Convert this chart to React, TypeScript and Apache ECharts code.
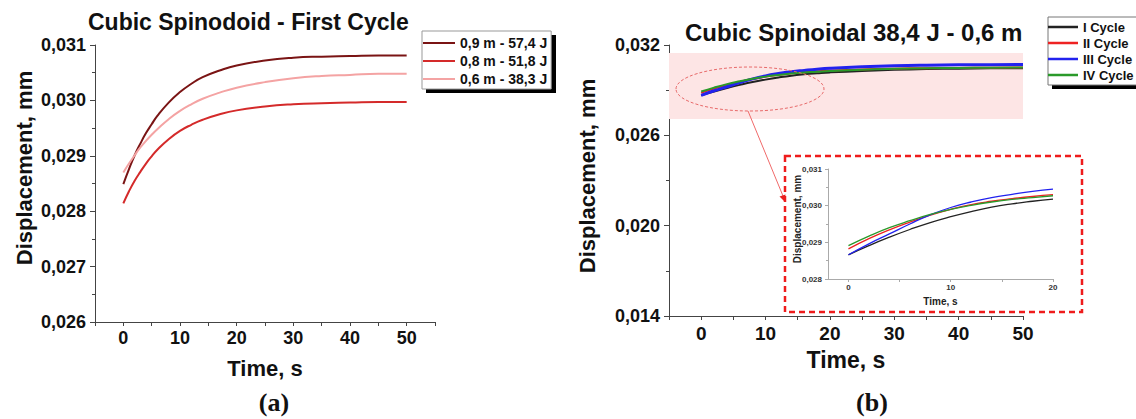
import React, { useEffect, useRef } from "react";
import * as echarts from "echarts";

// ---------- data ----------
// (a) Cubic Spinodoid – first cycle
const TIME_A = [0, 1, 2, 3, 4, 5, 6, 8, 10, 12, 14, 17, 20, 25, 30, 35, 40, 45, 50];
const DISP_09 = [0.02849, 0.02876, 0.02901, 0.02922, 0.02941, 0.02957, 0.02972, 0.02996, 0.03015, 0.0303, 0.03042, 0.03054, 0.03063, 0.03072, 0.03077, 0.03079, 0.0308, 0.03081, 0.03081];
const DISP_08 = [0.02814, 0.02836, 0.02855, 0.02871, 0.02886, 0.02899, 0.02911, 0.0293, 0.02945, 0.02956, 0.02965, 0.02975, 0.02982, 0.02989, 0.02993, 0.02995, 0.02996, 0.02997, 0.02997];
const DISP_06 = [0.0287, 0.02886, 0.02901, 0.02915, 0.02927, 0.02938, 0.02948, 0.02966, 0.02981, 0.02993, 0.03003, 0.03014, 0.03023, 0.03033, 0.0304, 0.03044, 0.03046, 0.03048, 0.03048];
const NAMES_A = ["0,9 m - 57,4 J", "0,8 m - 51,8 J", "0,6 m - 38,3 J"];

// (b) Cubic Spinoidal 38,4 J - 0,6 m, cycles I–IV
const TIME_B = [0, 2, 4, 6, 8, 10, 12, 14, 16, 18, 20, 25, 30, 35, 40, 45, 50];
const CYCLE_I = [0.02866, 0.02891, 0.02914, 0.02935, 0.02954, 0.0297, 0.02984, 0.02996, 0.03005, 0.03012, 0.03018, 0.03028, 0.03035, 0.0304, 0.03043, 0.03045, 0.03046];
const CYCLE_II = [0.02882, 0.0291, 0.02934, 0.02955, 0.02974, 0.0299, 0.03003, 0.03012, 0.03019, 0.03025, 0.0303, 0.03038, 0.03043, 0.03046, 0.03048, 0.03049, 0.0305];
const CYCLE_III = [0.02866, 0.02896, 0.02923, 0.0295, 0.02975, 0.02995, 0.0301, 0.03022, 0.03031, 0.03039, 0.03045, 0.03055, 0.03062, 0.03066, 0.03068, 0.03069, 0.0307];
const CYCLE_IV = [0.02891, 0.02917, 0.0294, 0.02959, 0.02976, 0.0299, 0.03001, 0.0301, 0.03017, 0.03022, 0.03027, 0.03036, 0.03042, 0.03046, 0.03048, 0.03049, 0.0305];
const NAMES_B = ["I Cycle", "II Cycle", "III Cycle", "IV Cycle"];
const INSET_MAX_T = 20;

const X_LABELS_MAIN = [0, 10, 20, 30, 40, 50];
const X_LABELS_INSET = [0, 10, 20];
const X_TICKS_INSET = [0, 5, 10, 15, 20];

const FONT = '"Liberation Sans", Arial, sans-serif';
const SERIF = '"Liberation Serif", "Times New Roman", serif';

const zip = (xs: number[], ys: number[]) => xs.map((x, i) => [x, ys[i]]);
const fmt = (v: number) => v.toFixed(3).replace(".", ",");

export default function App() {
  const ref = useRef<HTMLDivElement>(null);

  useEffect(() => {
    if (!ref.current) return;
    const chart = echarts.init(ref.current, null, { renderer: "svg" });

    const axisColor = "#444";
    const labelStyle = (size: number) => ({
      fontSize: size,
      fontWeight: "bold" as const,
      color: "#111",
      fontFamily: FONT,
    });

    const mainX = (grid: number, max: number, labelSize: number, margin: number, nameGap: number, nameSize: number) => ({
      gridIndex: grid,
      type: "value",
      min: -5,
      max,
      interval: 5,
      axisLine: { show: true, onZero: false, lineStyle: { color: axisColor, width: 1 } },
      axisTick: { show: true, inside: false, length: 4, lineStyle: { color: axisColor } },
      axisLabel: {
        ...labelStyle(labelSize),
        margin,
        formatter: (v: number) => (X_LABELS_MAIN.includes(v) ? String(v) : ""),
      },
      splitLine: { show: false },
      name: "Time, s",
      nameLocation: "middle",
      nameGap,
      nameTextStyle: labelStyle(nameSize),
    });

    const mainY = (grid: number, min: number, max: number, interval: number, size: number) => ({
      gridIndex: grid,
      type: "value",
      min,
      max,
      interval,
      axisLine: { show: true, onZero: false, lineStyle: { color: axisColor, width: 1 } },
      axisTick: { show: true, inside: false, length: 5, lineStyle: { color: axisColor } },
      minorTick: { show: true, splitNumber: 2, length: 3, lineStyle: { color: axisColor } },
      axisLabel: { ...labelStyle(size), margin: 9, formatter: fmt },
      splitLine: { show: false },
      minorSplitLine: { show: false },
    });

    const insetIdx = TIME_B.filter((t) => t <= INSET_MAX_T).length;

    const colorsA = ["#7a1414", "#d42a2a", "#f4a3a3"];
    const dataA = [DISP_09, DISP_08, DISP_06];
    const colorsB = ["#222222", "#ee2222", "#2222ee", "#2a9a2a"];
    const widthsB = [2, 2, 3, 2];
    const dataB = [CYCLE_I, CYCLE_II, CYCLE_III, CYCLE_IV];

    const seriesA = NAMES_A.map((name, i) => ({
      name,
      type: "line",
      xAxisIndex: 0,
      yAxisIndex: 0,
      smooth: true,
      symbol: "none",
      data: zip(TIME_A, dataA[i]),
      lineStyle: { color: colorsA[i], width: 2 },
      itemStyle: { color: colorsA[i] },
    }));

    const highlightSeries = {
      name: "zoom-region",
      type: "line",
      xAxisIndex: 1,
      yAxisIndex: 1,
      data: [],
      silent: true,
      markArea: {
        silent: true,
        itemStyle: { color: "#fde5e5" },
        data: [[{ coord: [-5, 0.03147] }, { coord: [51, 0.02708] }]],
      },
    };

    const seriesB = NAMES_B.map((name, i) => ({
      name,
      type: "line",
      xAxisIndex: 1,
      yAxisIndex: 1,
      smooth: true,
      symbol: "none",
      data: zip(TIME_B, dataB[i]),
      lineStyle: { color: colorsB[i], width: widthsB[i] },
      itemStyle: { color: colorsB[i] },
    }));

    const seriesInset = NAMES_B.map((name, i) => ({
      name,
      type: "line",
      xAxisIndex: 2,
      yAxisIndex: 2,
      smooth: true,
      symbol: "none",
      data: zip(TIME_B.slice(0, insetIdx), dataB[i].slice(0, insetIdx)),
      lineStyle: { color: colorsB[i], width: 1.3 },
      itemStyle: { color: colorsB[i] },
    }));

    const insetAxisColor = "#aaa";

    const option: any = {
      animation: false,
      backgroundColor: "#ffffff",
      title: [
        {
          text: "Cubic Spinodoid - First Cycle",
          left: 88,
          top: 10,
          padding: 0,
          textStyle: labelStyle(23),
        },
        {
          text: "Cubic Spinoidal 38,4 J - 0,6 m",
          left: 685,
          top: 20,
          padding: 0,
          textStyle: labelStyle(24),
        },
      ],
      legend: [
        {
          data: NAMES_A,
          orient: "vertical",
          left: 422,
          top: 31,
          icon: "rect",
          itemWidth: 32,
          itemHeight: 2,
          itemGap: 0,
          padding: [3, 4, 1, 1],
          backgroundColor: "#fff",
          borderColor: "#999",
          borderWidth: 1,
          textStyle: { ...labelStyle(14), lineHeight: 18 },
        },
        {
          data: NAMES_B,
          orient: "vertical",
          left: 1048,
          top: 17,
          icon: "rect",
          itemWidth: 30,
          itemHeight: 2.5,
          itemGap: 0,
          padding: [2, 8, 2, 0],
          backgroundColor: "#fff",
          borderColor: "#777",
          borderWidth: 1,
          textStyle: { ...labelStyle(13), lineHeight: 16 },
        },
      ],
      grid: [
        { left: 95, top: 45, width: 340, height: 277, containLabel: false },
        { left: 669, top: 45, width: 354, height: 271, containLabel: false },
        { left: 828, top: 169, width: 225, height: 110, containLabel: false },
      ],
      xAxis: [
        mainX(0, 55, 18, 7, 35, 22),
        mainX(1, 50, 19, 8, 32, 23),
        {
          gridIndex: 2,
          type: "value",
          min: -2,
          max: 20,
          axisLine: { show: true, onZero: false, lineStyle: { color: insetAxisColor } },
          axisTick: { show: true, length: 3, customValues: X_TICKS_INSET, lineStyle: { color: insetAxisColor } },
          axisLabel: {
            customValues: X_LABELS_INSET,
            fontSize: 8,
            fontWeight: "bold",
            color: "#333",
            fontFamily: FONT,
            margin: 4,
          },
          splitLine: { show: false },
          name: "Time, s",
          nameLocation: "middle",
          nameGap: 17,
          nameTextStyle: { fontSize: 10, fontWeight: "bold", color: "#222", fontFamily: FONT },
        },
      ],
      yAxis: [
        mainY(0, 0.026, 0.031, 0.001, 18),
        mainY(1, 0.014, 0.032, 0.006, 18),
        {
          gridIndex: 2,
          type: "value",
          min: 0.028,
          max: 0.031,
          interval: 0.001,
          axisLine: { show: true, onZero: false, lineStyle: { color: insetAxisColor } },
          axisTick: { show: true, length: 3, lineStyle: { color: insetAxisColor } },
          minorTick: { show: true, splitNumber: 2, length: 2, lineStyle: { color: insetAxisColor } },
          axisLabel: {
            fontSize: 8,
            fontWeight: "bold",
            color: "#333",
            fontFamily: FONT,
            margin: 6,
            formatter: fmt,
          },
          splitLine: { show: false },
          minorSplitLine: { show: false },
        },
      ],
      series: [...seriesA, highlightSeries, ...seriesB, ...seriesInset],
      graphic: [
        // hard drop shadows behind the two legend boxes
        { type: "rect", z: 1, shape: { x: 426, y: 35, width: 130, height: 58 }, style: { fill: "#000" } },
        { type: "rect", z: 1, shape: { x: 1052, y: 21, width: 94, height: 68 }, style: { fill: "#000" } },
        {
          type: "text",
          x: 24,
          y: 168,
          rotation: Math.PI / 2,
          z: 100,
          style: { text: "Displacement, mm", fontSize: 22, fontWeight: "bold", fontFamily: FONT, fill: "#111", align: "center", verticalAlign: "middle" },
        },
        {
          type: "text",
          x: 587,
          y: 176,
          rotation: Math.PI / 2,
          z: 100,
          style: { text: "Displacement, mm", fontSize: 22, fontWeight: "bold", fontFamily: FONT, fill: "#111", align: "center", verticalAlign: "middle" },
        },
        {
          type: "text",
          x: 797,
          y: 219,
          rotation: Math.PI / 2,
          z: 100,
          style: { text: "Displacement, mm", fontSize: 10, fontWeight: "bold", fontFamily: FONT, fill: "#222", align: "center", verticalAlign: "middle" },
        },
        {
          type: "text",
          x: 274,
          y: 402,
          z: 100,
          style: { text: "(a)", fontSize: 26, fontWeight: "bold", fontFamily: SERIF, fill: "#111", align: "center", verticalAlign: "middle" },
        },
        {
          type: "text",
          x: 872,
          y: 402,
          z: 100,
          style: { text: "(b)", fontSize: 26, fontWeight: "bold", fontFamily: SERIF, fill: "#111", align: "center", verticalAlign: "middle" },
        },
        {
          type: "ellipse",
          z: 100,
          shape: { cx: 750, cy: 89, rx: 74, ry: 22 },
          style: { fill: "none", stroke: "#e86a6a", lineWidth: 1, lineDash: [3, 2] },
        },
        {
          type: "line",
          z: 100,
          shape: { x1: 748, y1: 111, x2: 783, y2: 196 },
          style: { stroke: "#f06a6a", lineWidth: 1 },
        },
        {
          type: "polygon",
          z: 100,
          shape: { points: [[785, 202], [779.5, 196.5], [785.5, 194.5]] },
          style: { fill: "#e82020" },
        },
        {
          type: "rect",
          z: 100,
          shape: { x: 785, y: 156, width: 297, height: 156 },
          style: { fill: "none", stroke: "#ee1c1c", lineWidth: 2.5, lineDash: [6, 4] },
        },
      ],
    };

    chart.setOption(option);
    return () => chart.dispose();
  }, []);

  return (
    <div
      ref={ref}
      style={{ position: "fixed", left: 0, top: 0, width: 1136, height: 419, background: "#fff" }}
    />
  );
}
